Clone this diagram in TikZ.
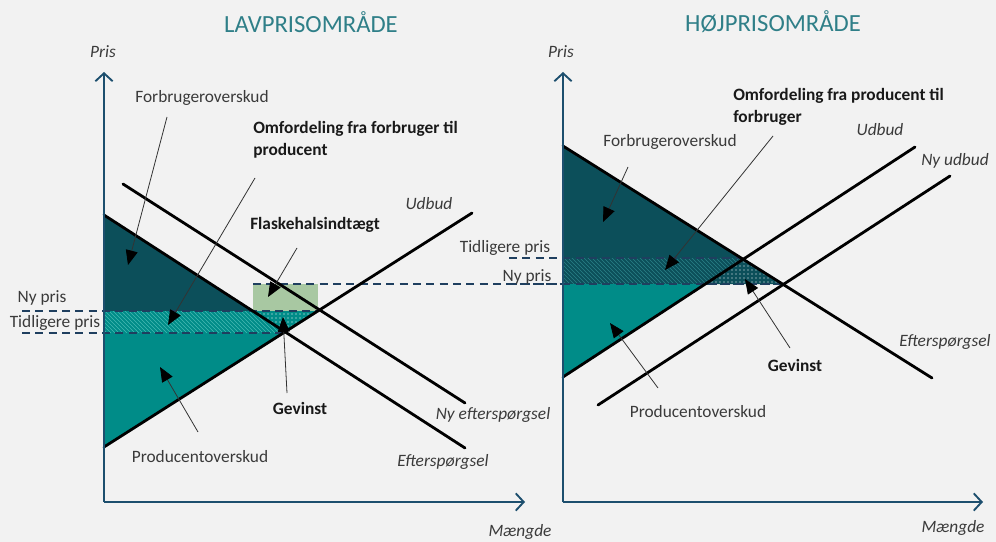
\documentclass[tikz,border=0pt]{standalone}
\usepackage{fontspec}
\setmainfont{Carlito}
\usetikzlibrary{arrows.meta,patterns}

\definecolor{bg}{HTML}{F2F2F2}
\definecolor{darkteal}{HTML}{0C4F5A}
\definecolor{midteal}{HTML}{008C88}
\definecolor{hatchlight}{HTML}{45B8B2}
\definecolor{hatchdark}{HTML}{2A8088}
\definecolor{axisblue}{HTML}{1D4F6E}
\definecolor{dashblue}{HTML}{1F3F5F}
\definecolor{titleteal}{HTML}{2F7F88}
\definecolor{boxgreen}{HTML}{A8C8A2}
\definecolor{labelgray}{HTML}{3A3A3A}

\tikzset{
  curve/.style={line width=2.1pt, black, line cap=round},
  axis/.style={axisblue, line width=1.4pt, -{Straight Barb[length=6pt,width=13pt,line width=1.4pt]}},
  priceline/.style={dashblue, line width=1.1pt, dash pattern=on 6pt off 4pt},
  pointer/.style={line width=0.6pt, black!80, -{Triangle[length=11pt,width=9pt,color=black,fill=black]}},
  lbl/.style={font=\fontsize{13}{16}\selectfont, text=labelgray, inner sep=0pt},
  boldlbl/.style={font=\fontsize{13}{16.5}\selectfont\bfseries, text=black!90, inner sep=0pt, align=left},
  curvelbl/.style={font=\fontsize{13}{16}\selectfont\itshape, text=labelgray, inner sep=0pt},
  charttitle/.style={font=\fontsize{18.5}{22}\selectfont, text=titleteal, inner sep=0pt},
}

\begin{document}
\begin{tikzpicture}[x=0.75pt,y=-0.75pt]
\fill[bg] (0,0) rectangle (996,542);
\useasboundingbox (0,0) rectangle (996,542);

% ---------------- Lavprisområde ----------------
\fill[darkteal] (104,215) -- (253,311) -- (104,311) -- cycle;
\fill[midteal] (104,311) -- (253,311) -- (285,333) -- (104,333) -- cycle;
\fill[pattern=north west lines, pattern color=hatchlight] (104,311) -- (253,311) -- (285,333) -- (104,333) -- cycle;
\fill[midteal] (253,311) -- (318,311) -- (285,333) -- cycle;
\fill[pattern=dots, pattern color=white!75] (253,311) -- (318,311) -- (285,333) -- cycle;
\fill[boxgreen] (253,284) rectangle (318,311);
\fill[midteal] (104,333) -- (285,333) -- (104,447) -- cycle;

\draw[priceline] (22,311) -- (318,311);
\draw[priceline] (22,333) -- (285,333);
\draw[priceline] (253,284) -- (783,284);

\coordinate (dL1) at (104,215);  \coordinate (dL2) at (465,448);
\coordinate (nL1) at (123,184);  \coordinate (nL2) at (465,403);
\coordinate (sL1) at (104,447);  \coordinate (sL2) at (472,213);
\draw[curve] (dL1) -- (dL2);
\draw[curve] (nL1) -- (nL2);
\draw[curve] (sL1) -- (sL2);

\coordinate (oL) at (104,502);
\coordinate (yL) at (104,72);
\coordinate (xL) at (525,502);
\draw[axis] (oL) -- (yL);
\draw[axis] (oL) -- (xL);

\node[charttitle] (tL) at (311,22) {LAVPRISOMRÅDE};
\node[curvelbl] (pL) at (103,52) {Pris};
\node[curvelbl] (mL) at (520,532) {Mængde};
\node[lbl] (nyL) at (42,298) {Ny pris};
\node[lbl] (tidL) at (55,323) {Tidligere pris};
\node[curvelbl] (udL) at (429,204) {Udbud};
\node[curvelbl] (nefL) at (493,415) {Ny efterspørgsel};
\node[curvelbl] (efL) at (443,462) {Efterspørgsel};

\node[lbl] (foL) at (202,98) {Forbrugeroverskud};
\node[boldlbl, anchor=west] (omL) at (253,140) {Omfordeling fra forbruger til\\producent};
\node[boldlbl, anchor=west] (flL) at (250,225) {Flaskehalsindtægt};
\node[boldlbl] (geL) at (300,408) {Gevinst};
\node[lbl] (poL) at (200,457) {Producentoverskud};

\coordinate (foLa) at (167,117);  \coordinate (foLb) at (128,265);
\coordinate (omLa) at (255,178);  \coordinate (omLb) at (168,325);
\coordinate (flLa) at (297,248);  \coordinate (flLb) at (268,297);
\coordinate (geLa) at (287,393);  \coordinate (geLb) at (283,317);
\coordinate (poLa) at (198,432);  \coordinate (poLb) at (160,367);
\draw[pointer] (foLa) -- (foLb);
\draw[pointer] (omLa) -- (omLb);
\draw[pointer] (flLa) -- (flLb);
\draw[pointer] (geLa) -- (geLb);
\draw[pointer] (poLa) -- (poLb);

% ---------------- Højprisområde ----------------
\fill[darkteal] (563,146) -- (742,258) -- (563,258) -- cycle;
\fill[darkteal] (563,258) -- (742,258) -- (705,284) -- (563,284) -- cycle;
\fill[pattern=north west lines, pattern color=hatchdark] (563,258) -- (742,258) -- (705,284) -- (563,284) -- cycle;
\fill[darkteal] (742,258) -- (705,284) -- (783,284) -- cycle;
\fill[pattern=dots, pattern color=white!65] (742,258) -- (705,284) -- (783,284) -- cycle;
\fill[midteal] (563,284) -- (705,284) -- (563,377) -- cycle;

\draw[priceline] (509,258) -- (742,258);
\draw[priceline] (509,284) -- (783,284);

\coordinate (dR1) at (563,146);  \coordinate (dR2) at (932,378);
\coordinate (sR1) at (563,377);  \coordinate (sR2) at (915,147);
\coordinate (nR1) at (598,405);  \coordinate (nR2) at (950,176);
\draw[curve] (dR1) -- (dR2);
\draw[curve] (sR1) -- (sR2);
\draw[curve] (nR1) -- (nR2);

\coordinate (oR) at (563,502);
\coordinate (yR) at (563,72);
\coordinate (xR) at (983,502);
\draw[axis] (oR) -- (yR);
\draw[axis] (oR) -- (xR);

\node[charttitle] (tR) at (773,22) {HØJPRISOMRÅDE};
\node[curvelbl] (pR) at (561,52) {Pris};
\node[curvelbl] (mR) at (953,528) {Mængde};
\node[lbl] (tidR) at (505,248) {Tidligere pris};
\node[lbl] (nyR) at (527,277) {Ny pris};
\node[curvelbl] (udR) at (880,130) {Udbud};
\node[curvelbl] (nudR) at (955,161) {Ny udbud};
\node[curvelbl] (efR) at (945,342) {Efterspørgsel};

\node[lbl] (foR) at (670,142) {Forbrugeroverskud};
\node[boldlbl, anchor=west] (omR) at (733,107) {Omfordeling fra producent til\\forbruger};
\node[boldlbl] (geR) at (795,365) {Gevinst};
\node[lbl] (poR) at (698,412) {Producentoverskud};

\coordinate (foRa) at (628,167);  \coordinate (foRb) at (603,222);
\coordinate (omRa) at (773,136);  \coordinate (omRb) at (665,270);
\coordinate (geRa) at (790,348);  \coordinate (geRb) at (745,279);
\coordinate (poRa) at (658,388);  \coordinate (poRb) at (610,323);
\draw[pointer] (foRa) -- (foRb);
\draw[pointer] (omRa) -- (omRb);
\draw[pointer] (geRa) -- (geRb);
\draw[pointer] (poRa) -- (poRb);
\end{tikzpicture}
\end{document}
